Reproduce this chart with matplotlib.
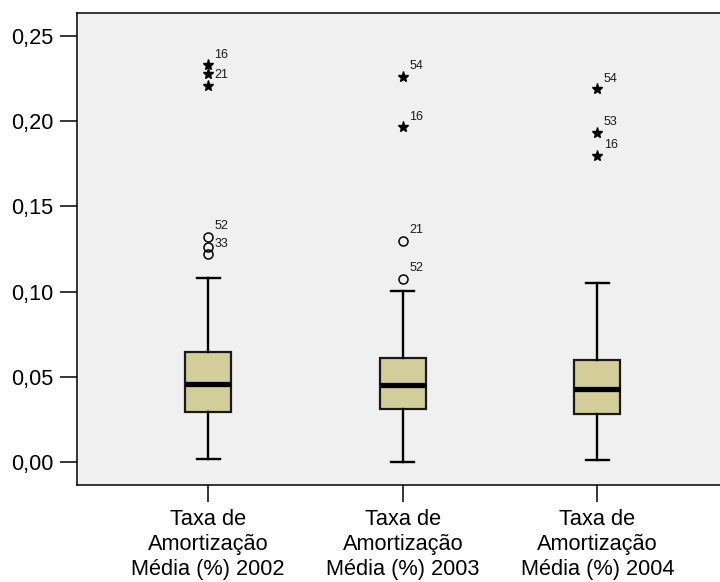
import matplotlib.pyplot as plt

# Dados
categorias = ["Taxa de\nAmortização\nMédia (%) 2002",
              "Taxa de\nAmortização\nMédia (%) 2003",
              "Taxa de\nAmortização\nMédia (%) 2004"]
mediana = [0.0458, 0.0450, 0.0428]
q1 = [0.0295, 0.0311, 0.0284]
q3 = [0.0647, 0.0610, 0.0599]
bigode_inf = [0.0016, 0.0000, 0.0012]
bigode_sup = [0.1082, 0.1004, 0.1049]

# outliers (círculos) e extremos (estrelas)
outliers = [[0.1322, 0.1264, 0.1219], [0.1299, 0.1076], []]
outliers_ids = [["52", "", "33"], ["21", "52"], []]
extremos = [[0.2330, 0.2277, 0.2208], [0.2262, 0.1964], [0.2189, 0.1933, 0.1798]]
extremos_ids = [["16", "", "21"], ["54", "16"], ["54", "53", "16"]]

yticks = [0.00, 0.05, 0.10, 0.15, 0.20, 0.25]

plt.rcParams["font.family"] = ["Liberation Sans", "DejaVu Sans"]

fig = plt.figure(figsize=(7.2, 5.82), dpi=100)
ax = fig.add_axes([0.107, 0.1667, 0.893, 0.811])
ax.set_facecolor("#F0F0F0")

posicoes = [1, 2, 3]
stats = []
for i in range(3):
    stats.append({
        "med": mediana[i], "q1": q1[i], "q3": q3[i],
        "whislo": bigode_inf[i], "whishi": bigode_sup[i], "fliers": [],
    })

ax.bxp(stats, positions=posicoes, widths=0.237, capwidths=0.118,
       showfliers=False, patch_artist=True,
       boxprops=dict(facecolor="#D3CE99", edgecolor="#1a1a1a", linewidth=1.6),
       medianprops=dict(color="black", linewidth=3.8, solid_capstyle="butt"),
       whiskerprops=dict(color="black", linewidth=1.7),
       capprops=dict(color="black", linewidth=1.7))

for i, p in enumerate(posicoes):
    for v, nome in zip(outliers[i], outliers_ids[i]):
        ax.plot(p, v, marker="o", markersize=6.5, markerfacecolor="none",
                markeredgecolor="black", markeredgewidth=1.1, linestyle="none")
        if nome:
            ax.annotate(nome, (p, v), xytext=(4.5, 7.5), textcoords="offset points",
                        ha="left", va="center", fontsize=9, color="#1a1a1a")
    for v, nome in zip(extremos[i], extremos_ids[i]):
        ax.plot(p, v, marker="*", markersize=8, color="black", linestyle="none")
        if nome:
            ax.annotate(nome, (p, v), xytext=(4.5, 7.5), textcoords="offset points",
                        ha="left", va="center", fontsize=9, color="#1a1a1a")

ax.set_xlim(0.326, 3.63)
ax.set_ylim(-0.0135, 0.2635)
ax.set_yticks(yticks)
ax.set_yticklabels([f"{t:.2f}".replace(".", ",") for t in yticks])
ax.set_xticks(posicoes)
ax.set_xticklabels(categorias, linespacing=1.25)

ax.tick_params(axis="both", direction="out", length=12.2, width=1.1,
               labelsize=15.7, colors="black")
ax.tick_params(axis="y", pad=5)
ax.tick_params(axis="x", pad=5)

for lado in ["left", "bottom", "top"]:
    ax.spines[lado].set_linewidth(1.1)
ax.spines["right"].set_visible(False)

fig.savefig("out.png", dpi=100)
